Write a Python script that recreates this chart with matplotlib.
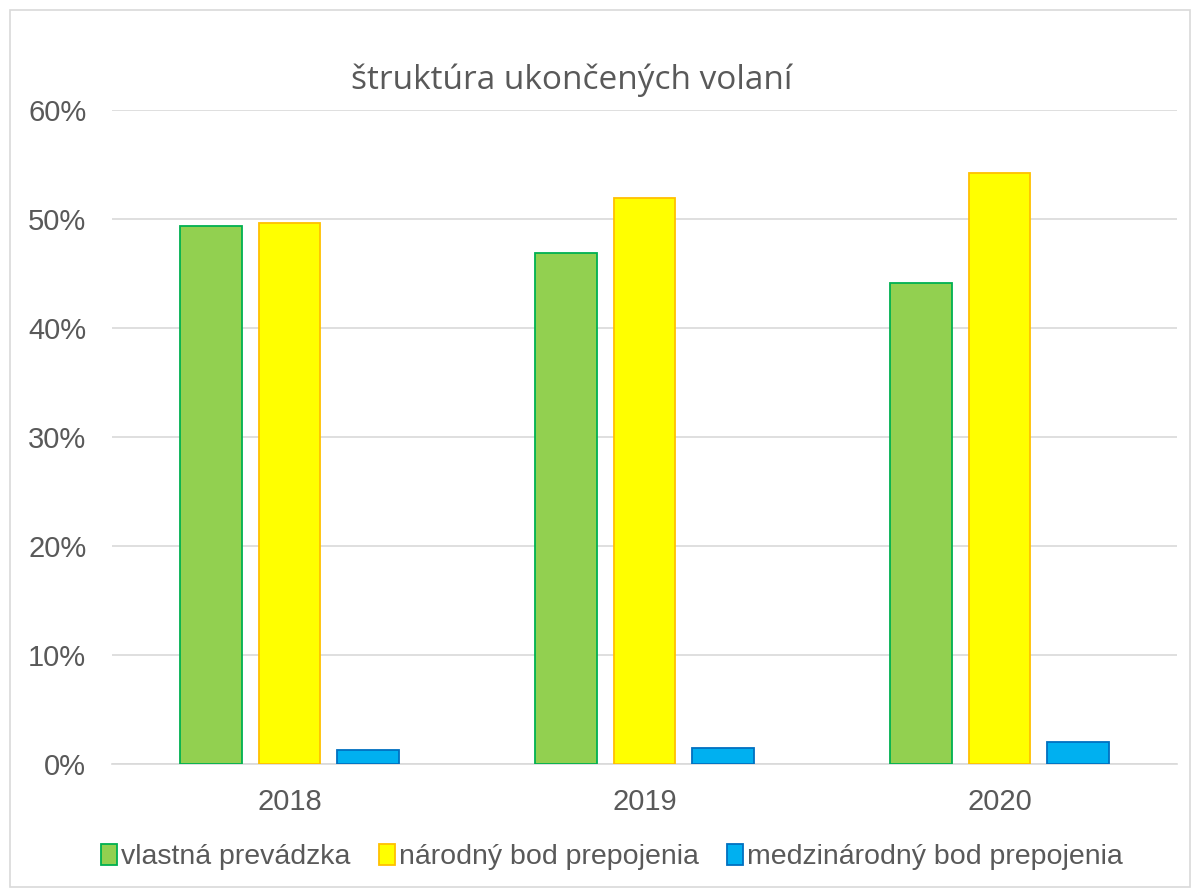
import matplotlib.pyplot as plt
from matplotlib.patches import Rectangle
from matplotlib.ticker import FuncFormatter
import numpy as np

years = ["2018", "2019", "2020"]
series_names = ["vlastná prevádzka", "národný bod prepojenia", "medzinárodný bod prepojenia"]
vlastna = [49.4, 46.9, 44.1]
narodny = [49.6, 51.9, 54.2]
medzinarodny = [1.25, 1.5, 2.05]
values = [vlastna, narodny, medzinarodny]
faces = ["#92D050", "#FFFF00", "#00B0F0"]
edges = ["#00B050", "#FFC000", "#0070C0"]

fig = plt.figure(figsize=(11.95, 8.89), dpi=100)
fig.patches.append(Rectangle((10/1195, 2/889), 1180/1195, 877/889, transform=fig.transFigure,
                             fill=False, edgecolor="#D9D9D9", linewidth=1.2))
ax = fig.add_axes([112/1195, 1 - 764/889, 1065/1195, 654/889])

x = np.arange(len(years))
w = 62/356
step = 79/356
for i, (vals, fc, ec, nm) in enumerate(zip(values, faces, edges, series_names)):
    ax.bar(x + (i - 1) * step, vals, width=w, color=fc, edgecolor=ec, linewidth=1.3, label=nm, zorder=3)

ax.set_xlim(-0.5, 2.5)
ax.set_ylim(0, 60)
ax.set_yticks(np.arange(0, 61, 10))
ax.yaxis.set_major_formatter(FuncFormatter(lambda v, p: f"{int(v)}%"))
ax.set_xticks(x)
ax.set_xticklabels(years)
ax.grid(axis="y", color="#D9D9D9", linewidth=1.2, zorder=0)
for s in ["top", "right", "left"]:
    ax.spines[s].set_visible(False)
ax.spines["bottom"].set_color("#D9D9D9")
ax.spines["bottom"].set_linewidth(1.2)
ax.tick_params(axis="both", length=0, labelsize=21, labelcolor="#595959")
for lbl in ax.get_xticklabels() + ax.get_yticklabels():
    lbl.set_family("Liberation Sans")
ax.tick_params(axis="y", pad=18.5)
ax.tick_params(axis="x", pad=17)

fig.text(572/1195, 1 - 80/889, "štruktúra ukončených volaní", ha="center", va="center",
         fontsize=24, color="#595959", family="Open Sans")

leg = fig.legend(loc="center", bbox_to_anchor=(612/1195, 1 - 857/889), ncol=3, frameon=False,
                 prop={"family": "Liberation Sans", "size": 20.5}, handlelength=0.55, handleheight=0.75,
                 handletextpad=0.15, columnspacing=1.0, labelcolor="#595959")

fig.savefig("out.png", dpi=100)
